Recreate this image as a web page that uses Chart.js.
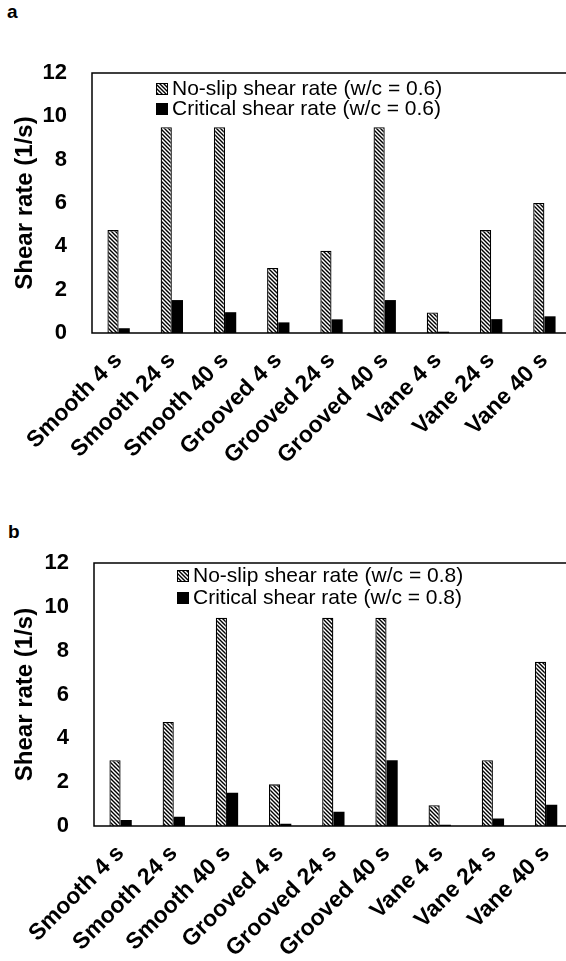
<!DOCTYPE html>
<html>
<head>
<meta charset="utf-8">
<script src="https://cdn.jsdelivr.net/npm/chart.js@4.4.0/dist/chart.umd.min.js"></script>
<style>
html, body { margin: 0; padding: 0; background: #fff; overflow: hidden; width: 566px; height: 961px; }
.panel { position: absolute; left: 0; width: 566px; overflow: hidden; }
.tag { position: absolute; font: bold 19px "Liberation Sans", Arial, sans-serif; color: #000; }
</style>
</head>
<body>
<div class="tag" style="left:7px; top:1px;">a</div>
<div class="panel" style="top:0; height:480px;"><canvas id="chartA" width="580" height="480"></canvas></div>
<div class="tag" style="left:8px; top:521px;">b</div>
<div class="panel" style="top:480px; height:481px;"><canvas id="chartB" width="580" height="481"></canvas></div>
<script>
// categories and values
var categories = ['Smooth 4 s', 'Smooth 24 s', 'Smooth 40 s', 'Grooved 4 s', 'Grooved 24 s',
                  'Grooved 40 s', 'Vane 4 s', 'Vane 24 s', 'Vane 40 s'];
var noSlipA = [4.75, 9.5, 9.5, 3.0, 3.8, 9.5, 0.95, 4.75, 6.0];
var criticalA = [0.22, 1.52, 0.96, 0.49, 0.63, 1.52, 0.06, 0.64, 0.77];
var noSlipB = [3.0, 4.75, 9.5, 1.9, 9.5, 9.5, 0.95, 3.0, 7.5];
var criticalB = [0.27, 0.42, 1.52, 0.1, 0.65, 3.0, 0.06, 0.34, 0.97];
var yTicks = [0, 2, 4, 6, 8, 10, 12];

var FONT = '"Liberation Sans", Arial, sans-serif';

//diagonal hatch fill for the no-slip bars
function hatch() {
	var c = document.createElement('canvas');
	c.width = 4; c.height = 4;
	var g = c.getContext('2d');
	g.fillStyle = '#fff';
	g.fillRect(0, 0, 4, 4);
	g.strokeStyle = '#000';
	g.lineWidth = 1.4;
	g.beginPath();
	g.moveTo(-1, -1); g.lineTo(5, 5);
	g.moveTo(3, -1); g.lineTo(5, 1);
	g.moveTo(-1, 3); g.lineTo(1, 5);
	g.stroke();
	return g.createPattern(c, 'repeat');
}

//top, left and bottom lines of the plot box (right side is cut off in the figure)
var frame = {
	id: 'frame',
	afterDatasetsDraw: function(chart) {
		var a = chart.chartArea, ctx = chart.ctx;
		ctx.save();
		ctx.strokeStyle = '#000';
		ctx.lineWidth = 1.5;
		ctx.beginPath();
		ctx.moveTo(chart.width, a.top);
		ctx.lineTo(a.left, a.top);
		ctx.lineTo(a.left, a.bottom);
		ctx.lineTo(chart.width, a.bottom);
		ctx.stroke();
		ctx.restore();
	}
};

//legend drawn inside the plot, like the excel one
var boxLegend = {
	id: 'boxLegend',
	afterDraw: function(chart, args, o) {
		var ctx = chart.ctx, a = chart.chartArea;
		ctx.save();
		ctx.font = '21px ' + FONT;
		ctx.textBaseline = 'middle';
		chart.data.datasets.forEach(function(ds, i) {
			var x = a.left + o.x, y = a.top + o.y + i * o.gap;
			ctx.fillStyle = ds.backgroundColor;
			ctx.fillRect(x, y - 6, 12, 12);
			if (i == 0) {
				ctx.strokeStyle = '#000';
				ctx.lineWidth = 1;
				ctx.strokeRect(x + 0.5, y - 5.5, 11, 11);
			}
			ctx.fillStyle = '#000';
			ctx.fillText(ds.label, x + 16, y);
		});
		ctx.restore();
	}
};

function makeChart(id, noSlip, critical, wc, lay) {
	var ctx = document.getElementById(id);
	return new Chart(ctx, {
		type: 'bar',
		data: {
			labels: categories,
			datasets: [{
				label: 'No-slip shear rate (w/c = ' + wc + ')',
				data: noSlip,
				backgroundColor: hatch(),
				borderColor: '#000',
				borderWidth: 1.3,
				categoryPercentage: 0.42,
				barPercentage: 1.0
			}, {
				label: 'Critical shear rate (w/c = ' + wc + ')',
				data: critical,
				backgroundColor: '#000',
				borderWidth: 0,
				categoryPercentage: 0.42,
				barPercentage: 1.0
			}]
		},
		options: {
			responsive: false,
			animation: false,
			devicePixelRatio: 1,
			layout: { autoPadding: false, padding: { top: lay.top, right: lay.right, left: 0, bottom: 0 } },
			plugins: {
				legend: { display: false },
				tooltip: { enabled: false },
				boxLegend: { x: lay.legendX, y: lay.legendY, gap: lay.legendGap }
			},
			scales: {
				x: {
					grid: { display: false, drawTicks: false },
					border: { display: false },
					ticks: {
						autoSkip: false, minRotation: 45, maxRotation: 45, padding: 14,
						color: '#000', font: { family: FONT, size: 23, weight: 'bold' }
					},
					afterFit: function(s) { s.height = lay.xHeight; }
				},
				y: {
					min: 0, max: 12,
					afterBuildTicks: function(s) { s.ticks = yTicks.map(function(v) { return { value: v }; }); },
					grid: { display: false, drawTicks: false },
					border: { display: false },
					ticks: { padding: 25, color: '#000', font: { family: FONT, size: 22, weight: 'bold' } },
					title: {
						display: true, text: 'Shear rate (1/s)', color: '#000',
						font: { family: FONT, size: 24, weight: 'bold' },
						padding: { top: 11, bottom: 0 }
					},
					afterFit: function(s) { s.width = lay.left; }
				}
			}
		},
		plugins: [frame, boxLegend]
	});
}

makeChart('chartA', noSlipA, criticalA, '0.6',
	{ top: 73, right: 9, left: 92, xHeight: 147, legendX: 64, legendY: 16, legendGap: 20 });
makeChart('chartB', noSlipB, criticalB, '0.8',
	{ top: 83, right: 7, left: 94, xHeight: 135, legendX: 83, legendY: 13, legendGap: 22 });
</script>
</body>
</html>
